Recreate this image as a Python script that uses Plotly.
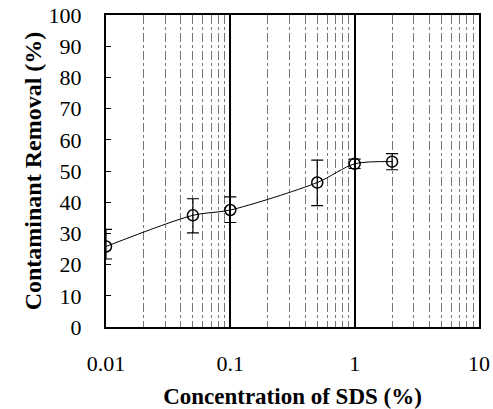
import plotly.graph_objects as go

conc = [0.01, 0.05, 0.1, 0.5, 1, 2]
removal = [25.8, 35.8, 37.5, 46.3, 52.3, 53.0]
err_plus = [5.5, 5.3, 4.2, 7.2, 1.5, 2.6]
err_minus = [4.0, 5.6, 4.0, 7.4, 1.5, 2.6]

x_ticks = [0.01, 0.1, 1, 10]
x_tick_labels = ["0.01", "0.1", "1", "10"]
x_minor = [m * d for d in (0.01, 0.1, 1) for m in range(2, 10)]
y_ticks = list(range(0, 101, 10))

fig = go.Figure()
fig.add_trace(go.Scatter(
    x=conc, y=removal, mode="lines+markers",
    line=dict(color="black", width=1, shape="spline", smoothing=0.8),
    marker=dict(symbol="circle-open", size=11, color="black", line=dict(width=1.5, color="black")),
    error_y=dict(type="data", symmetric=False, array=err_plus, arrayminus=err_minus,
                 color="black", thickness=1.2, width=6),
    showlegend=False,
))

serif = "Liberation Serif, Times New Roman, serif"
fig.update_layout(
    width=493, height=409,
    margin=dict(l=106, r=14, t=15, b=82, autoexpand=False),
    paper_bgcolor="white", plot_bgcolor="white",
    font=dict(family=serif, color="black"),
    xaxis=dict(
        type="log", range=[-2, 1],
        tickvals=x_ticks, ticktext=x_tick_labels,
        tickfont=dict(size=22, family=serif),
        ticklabelstandoff=16, ticklabeloverflow="allow",
        showline=True, linecolor="black", linewidth=2, mirror=True,
        showgrid=True, gridcolor="black", gridwidth=1.5,
        minor=dict(tickvals=x_minor, showgrid=True, gridcolor="#777777",
                   griddash="dashdot", gridwidth=1, ticks=""),
        ticks="", zeroline=False, automargin=False,
        title=dict(text="<b>Concentration of SDS (%)</b>", font=dict(size=23, family=serif), standoff=14),
    ),
    yaxis=dict(
        range=[0, 100], tickvals=y_ticks,
        tickfont=dict(size=22, family=serif),
        ticklabelstandoff=18, ticklabeloverflow="allow",
        showline=True, linecolor="black", linewidth=2, mirror=True,
        showgrid=False, zeroline=False, automargin=False,
        ticks="inside", ticklen=5, tickcolor="black",
        title=dict(text="<b>Contaminant Removal (%)</b>", font=dict(size=24, family=serif), standoff=0),
    ),
)

fig.write_html("out.html", config={"displayModeBar": False},
               post_script="document.body.style.margin='0';document.body.style.overflow='hidden';")
